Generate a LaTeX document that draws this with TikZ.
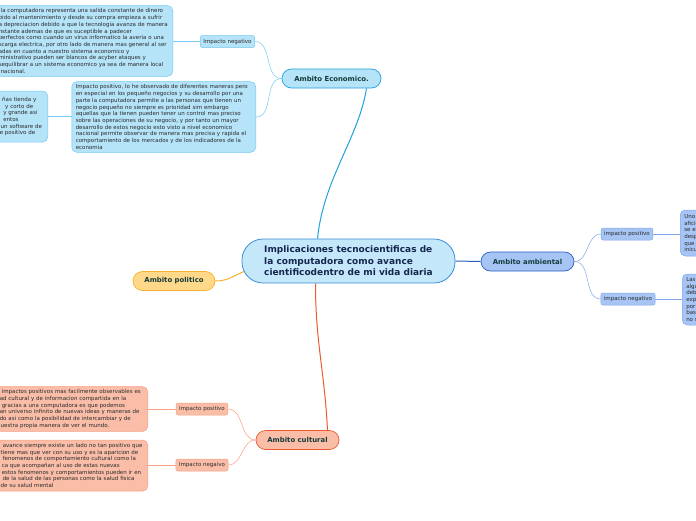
\documentclass[tikz,border=0pt]{standalone}
\usepackage{fontspec}
\setmainfont{DejaVu Sans}
\usetikzlibrary{positioning,backgrounds,calc}
\definecolor{ecofill}{HTML}{B5E3F8}
\definecolor{ecoline}{HTML}{1FA2DE}
\definecolor{ecosoft}{HTML}{72CBF2}
\definecolor{midfill}{HTML}{C4E7F9}
\definecolor{midline}{HTML}{3C8FD8}
\definecolor{ambfill}{HTML}{A6C5F5}
\definecolor{ambline}{HTML}{2A5FC4}
\definecolor{ambsoft}{HTML}{7FA7EA}
\definecolor{culfill}{HTML}{F9BDA8}
\definecolor{culline}{HTML}{EC5B2F}
\definecolor{culsoft}{HTML}{F7A083}
\definecolor{polfill}{HTML}{FFD88A}
\definecolor{polline}{HTML}{F5B32C}
\definecolor{labeltext}{HTML}{143C3A}
\definecolor{midtext}{HTML}{16264F}
\definecolor{notetext}{HTML}{2B2B2B}

\begin{document}
\begin{tikzpicture}[x=1pt, y=-1pt,
  every node/.append style={font=\fontsize{5.5}{6.7}\selectfont, text=notetext},
  central/.style={draw=midline, fill=midfill, line width=0.8pt, rounded corners=21pt,
    minimum width=213pt, minimum height=44pt, align=left, text=midtext,
    font=\bfseries\fontsize{9}{11.5}\selectfont},
  branch/.style={line width=0.7pt, rounded corners=9.5pt, minimum height=19pt,
    text=labeltext, font=\bfseries\fontsize{6.9}{8}\selectfont},
  sublabel/.style={line width=0.5pt, rounded corners=2pt, minimum height=12pt, inner xsep=3pt},
  note/.style={line width=0.5pt, rounded corners=5pt, align=left, inner xsep=4pt, inner ysep=3pt},
  link/.style={line width=1pt},
  twig/.style={line width=0.5pt}
]
\useasboundingbox (0,0) rectangle (696,520);

\node[central] (central) at (348.5,261) {Implicaciones tecnocientificas de\\la computadora como avance\\cientificodentro de mi vida diaria};

\node[branch, draw=ecoline, fill=ecofill, minimum width=99pt] (eco) at (331.5,78.5) {Ambito Economico.};
\node[branch, draw=polline, fill=polfill, minimum width=82pt] (pol) at (174,281) {Ambito politico};
\node[branch, draw=ambline, fill=ambfill, minimum width=93pt] (amb) at (527.5,261.5) {Ambito ambiental};
\node[branch, draw=culline, fill=culfill, minimum width=83pt] (cul) at (297.5,440) {Ambito cultural};

\node[sublabel, draw=ecosoft, fill=ecofill] (econeg) at (227.5,41.5) {Impacto negativo};
\node[sublabel, draw=ambsoft, fill=ambfill] (ambpos) at (627,234) {impacto positivo};
\node[sublabel, draw=ambsoft, fill=ambfill] (ambneg) at (628,299) {impacto negativo};
\node[sublabel, draw=culsoft, fill=culfill] (culpos) at (202,409) {Impacto positivo};
\node[sublabel, draw=culsoft, fill=culfill] (culneg) at (202,465) {Impacto negaivo};

\node[note, draw=ecosoft, fill=ecofill, text width=170pt, anchor=east] (econegnote) at (173,41) {%
\hspace*{2pt}la computadora representa una salida constante de dinero\\
bido al mantenimiento y desde su compra empieza a sufrir\\
a depreciacion debido a que la tecnologia avanza de manera\\
nstante ademas de que es suceptible a padecer\\
perfectos como cuando un virus informatico la averia o una\\
scarga electrica, por otro lado de manera mas general al ser\\
adas en cuanto a nuestro sistema economico y\\
ministrativo pueden ser blancos de acyber ataques y\\
sequilibrar a un sistema economico ya sea de manera local\\
\hspace*{2pt}nacional.};
\node[note, draw=ecosoft, fill=ecofill, text width=176pt, anchor=east] (ecoposnote) at (256,117) {%
Impacto positivo, lo he observado de diferentes maneras pero\\
en especial en los pequeño negocios y su desarrollo por una\\
parte la computadora permite a las personas que tienen un\\
negocio pequeño no siempre es prioridad sim embargo\\
aquellas que la tienen pueden tener un control mas preciso\\
sobre las operaciones de su negocio, y por tanto un mayor\\
desarrollo de estos negocio esto visto a nivel economico\\
nacional permite observar de manera mas precisa y rapida el\\
comportamiento de los mercados y de los indicadores de la\\
economia};
\node[note, draw=ecosoft, fill=ecofill, text width=47pt, inner xsep=3.5pt, minimum height=51pt, anchor=east] (ecoextra) at (48,116.5) {%
\hspace*{5pt}ñas tienda y\\
\hspace*{8pt}y corto de\\
\hspace*{6pt}y grande asi\\
\hspace*{6pt}entos\\
\hspace*{3.5pt}un software de\\
\hspace*{2.5pt}e positivo de};

\node[note, draw=ambsoft, fill=ambfill, text width=40pt, minimum height=46pt, anchor=west] (ambposnote) at (680,233) {%
Uno de los\\
aficionados\\
se encuentran\\
desperdicios\\
que se\\
inicuos};
\node[note, draw=ambsoft, fill=ambfill, text width=40pt, minimum height=51pt, anchor=west] (ambnegnote) at (682,299.5) {%
Las\\
algunas\\
debido\\
exposicion\\
por\\
basura\\
no se};

\node[note, draw=culsoft, fill=culfill, text width=144pt, minimum height=44pt, anchor=east] (culposnote) at (148,409) {%
\hspace*{2pt}impactos positivos mas facilmente observables es\\
ad cultural y de informacion compartida en la\\
\hspace*{2pt}gracias a una computadora es que podemos\\
an universo infinito de nuevas ideas y maneras de\\
do asi como la posibilidad de intercambiar y de\\
\hspace*{1pt}uestra propia manera de ver el mundo.};
\node[note, draw=culsoft, fill=culfill, text width=144pt, minimum height=51pt, anchor=east] (culnegnote) at (148,465.5) {%
\hspace*{3pt}avance siempre existe un lado no tan positivo que\\
\hspace*{1pt}tiene mas que ver con su uso y es la aparicion de\\
\hspace*{3pt}fenomenos de comportamiento cultural como la\\
\hspace*{2pt}ca que acompañan al uso de estas nuevas\\
\hspace*{2pt}estos fenomenos y comportamientos pueden ir en\\
\hspace*{3pt}de la salud de las personas como la salud fisica\\
\hspace*{1pt}de su salud mental};

\begin{scope}[on background layer]
\fill[white] (0,0) rectangle (696,520);
\draw[link, draw=ecoline] ([xshift=-31pt]central.north) .. controls +(6,-60) and +(-8,50) .. ([xshift=35pt]eco.south);
\draw[link, draw=ambline] (central.east) -- (amb.west);
\draw[link, draw=polline] (pol.east) .. controls +(14,0) and +(-12,4) .. ([xshift=4pt,yshift=-10pt]central.west);
\draw[link, draw=culline] ([xshift=-33pt]central.south) .. controls +(0,60) and +(-3,-60) .. ([xshift=30pt]cul.north);
\draw[twig, draw=ecosoft] (eco.west) to[out=180,in=0] (econeg.east);
\draw[twig, draw=ecosoft] (eco.west) to[out=180,in=0] (ecoposnote.east);
\draw[twig, draw=ecosoft] (econeg.west) -- (econegnote.east |- econeg.west);
\draw[twig, draw=ecosoft] (ecoextra.east) -- (ecoposnote.west |- ecoextra.east);
\draw[twig, draw=ambsoft] (amb.east) to[out=0,in=180] (ambpos.west);
\draw[twig, draw=ambsoft] (amb.east) to[out=0,in=180] (ambneg.west);
\draw[twig, draw=ambsoft] (ambpos.east) -- (ambposnote.west |- ambpos.east);
\draw[twig, draw=ambsoft] (ambneg.east) -- (ambnegnote.west |- ambneg.east);
\draw[twig, draw=culsoft] (cul.west) to[out=180,in=0] (culpos.east);
\draw[twig, draw=culsoft] (cul.west) to[out=180,in=0] (culneg.east);
\draw[twig, draw=culsoft] (culpos.west) -- (culposnote.east |- culpos.west);
\draw[twig, draw=culsoft] (culneg.west) -- (culnegnote.east |- culneg.west);
\end{scope}
\end{tikzpicture}
\end{document}
